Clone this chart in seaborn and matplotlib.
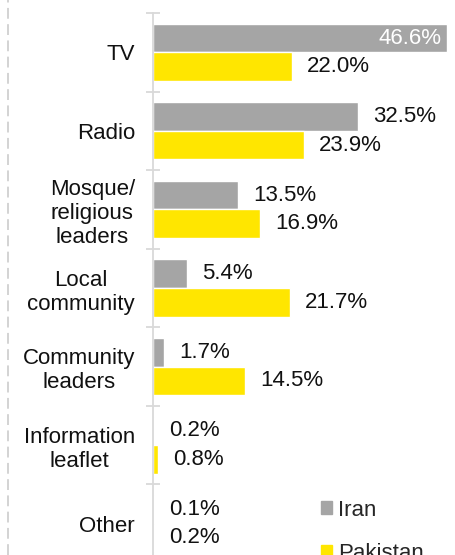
import numpy as np
import pandas as pd
import seaborn as sns
from matplotlib import pyplot as plt
from matplotlib.lines import Line2D
from matplotlib.patches import Patch

categories = ['TV', 'Radio', 'Mosque/\nreligious\nleaders', 'Local\ncommunity',
              'Community\nleaders', 'Information\nleaflet', 'Other']
iran = [46.6, 32.5, 13.5, 5.4, 1.7, 0.2, 0.1]
pakistan = [22.0, 23.9, 16.9, 21.7, 14.5, 0.8, 0.2]
countries = ['Iran', 'Pakistan']
colors = ['#A5A5A5', '#FFE600']

df = pd.DataFrame({
    'source': categories * 2,
    'value': iran + pakistan,
    'country': ['Iran'] * len(categories) + ['Pakistan'] * len(categories),
})

sns.set_style('white')
plt.rcParams['font.family'] = ['Liberation Sans', 'DejaVu Sans']

fig = plt.figure(figsize=(4.56, 5.55), dpi=100)
ax = fig.add_axes([153 / 456, -8 / 555, 303 / 456, 550 / 555])

sns.barplot(data=df, x='value', y='source', hue='country', palette=colors,
            orient='h', width=0.727, ax=ax, legend=False, saturation=1)

ax.set_xlim(0, 48)
ax.set_ylim(len(categories) - 0.5, -0.5)
ax.set_xlabel('')
ax.set_ylabel('')
ax.set_xticks([])

for s in ['top', 'right', 'bottom']:
    ax.spines[s].set_visible(False)
ax.spines['left'].set_color('#D9D9D9')
ax.spines['left'].set_linewidth(1.3)

ax.set_yticks(range(len(categories)))
ax.set_yticklabels(categories, fontsize=16, color='#111111')
for lbl in ax.get_yticklabels():
    lbl.set_multialignment('center')
ax.tick_params(axis='y', which='major', length=0, pad=13)
ax.set_yticks(np.arange(-0.5, len(categories), 1), minor=True)
ax.tick_params(axis='y', which='minor', left=True, length=9.5, width=1.3,
               direction='inout', color='#D9D9D9')

for cont, vals in zip(ax.containers, [iran, pakistan]):
    outside = ['' if v > 40 else f'{v:.1f}%' for v in vals]
    ax.bar_label(cont, labels=outside, padding=11, fontsize=16, color='#111111')
    for bar, v in zip(cont, vals):
        if v > 40:
            ax.annotate(f'{v:.1f}%', (v, bar.get_y() + bar.get_height() / 2),
                        xytext=(-4, 0), textcoords='offset points',
                        ha='right', va='center', fontsize=16, color='white')

handles = [Patch(color=c, label=n) for c, n in zip(colors, countries)]
fig.legend(handles=handles, loc='upper left', bbox_to_anchor=(0.685, 0.116),
           frameon=False, fontsize=16, handlelength=0.5, handleheight=0.5,
           handletextpad=0.25, labelspacing=1.0, borderaxespad=0)

fig.add_artist(Line2D([8 / 456, 8 / 456], [0, 1], color='#D0D0D0', lw=1.3,
                      linestyle=(0, (6, 3))))

plt.savefig('out.png', dpi=100)
